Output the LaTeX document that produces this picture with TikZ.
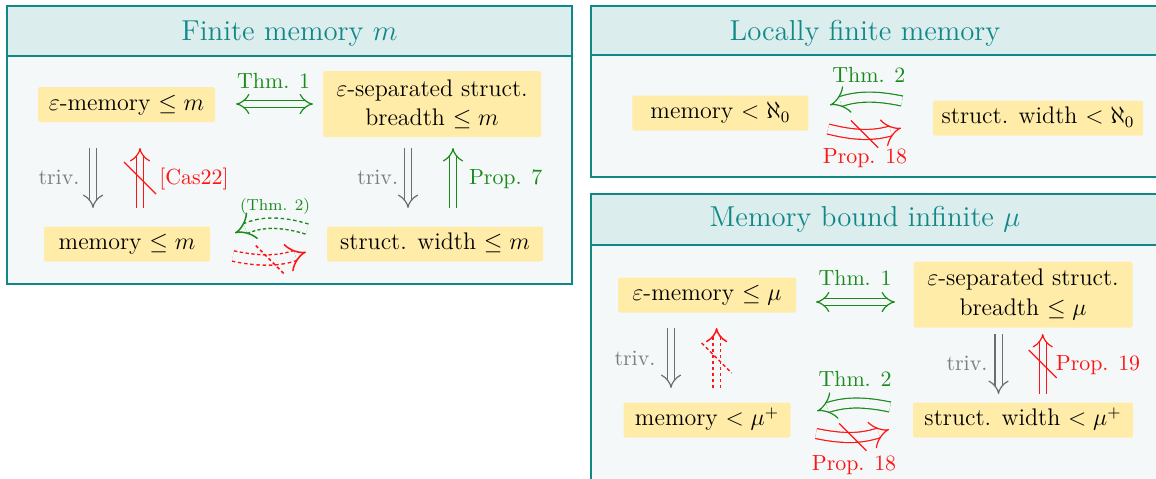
\documentclass[tikz,border=0pt]{standalone}
\usetikzlibrary{arrows.meta}
\definecolor{tealc}{RGB}{17,136,136}
\definecolor{headfill}{RGB}{220,237,237}
\definecolor{bodyfill}{RGB}{244,248,249}
\definecolor{boxfill}{RGB}{255,236,168}
\definecolor{greenc}{RGB}{26,138,26}
\definecolor{redc}{RGB}{255,20,20}
\definecolor{arrgray}{RGB}{110,110,110}
\definecolor{labgray}{RGB}{125,125,125}
\newcommand\fbase{\fontsize{12}{14.6}\selectfont}
\newcommand\ftitle{\fontsize{14.4}{17}\selectfont}
\newcommand\flabel{\fontsize{10.95}{13}\selectfont}
\newcommand\ftiny{\fontsize{8}{10}\selectfont}
\begin{document}
\begin{tikzpicture}[x=0.5pt,y=-0.5pt,
  panelline/.style={draw=tealc,line width=1pt},
  titletext/.style={text=tealc,font=\ftitle,anchor=base,inner sep=0pt},
  sbox/.style={fill=boxfill,rounded corners=1pt,inner xsep=3pt,inner ysep=2pt,
    font=\fbase,minimum height=17.5pt,text height=8.9pt,text depth=3pt},
  dbox/.style={fill=boxfill,rounded corners=1pt,inner xsep=3pt,inner ysep=2pt,
    font=\fbase,align=center,minimum height=33pt},
  lab/.style={font=\flabel,anchor=base,inner sep=0pt},
  imp/.style={double=bodyfill,double distance=3pt,line width=0.6pt,-{Implies[length=4.5pt,width=11pt]}},
  impboth/.style={double=bodyfill,double distance=3pt,line width=0.6pt,{Implies[length=4.5pt,width=11pt]}-{Implies[length=4.5pt,width=11pt]}},
  cimp/.style={double=bodyfill,double distance=4.4pt,line width=0.6pt,-{Implies[length=5pt,width=12pt]}},
  dsh/.style={dash pattern=on 1.7pt off 1.3pt,line width=0.75pt},
  erasec/.style={draw=bodyfill,line width=4.2pt,solid,shorten >=6pt},
  erases/.style={draw=bodyfill,line width=2.9pt,solid,shorten >=5pt},
  slash/.style={line width=0.6pt}]
\useasboundingbox (0,0) rectangle (1156,478);
\clip (0,0) rectangle (1156,478);
\fill[white] (0,0) rectangle (1156,478);

% ---------- panels ----------
\fill[headfill] (7,6) rectangle (572,56);
\fill[bodyfill] (7,56) rectangle (572,284);
\draw[panelline] (7,6) rectangle (572,284);
\draw[panelline] (7,56) -- (572,56);

\fill[headfill] (591,6) rectangle (1157,55);
\fill[bodyfill] (591,55) rectangle (1157,177);
\draw[panelline] (591,6) rectangle (1157,177);
\draw[panelline] (591,55) -- (1157,55);

\fill[headfill] (591,194) rectangle (1157,245);
\fill[bodyfill] (591,245) rectangle (1157,520);
\draw[panelline] (591,194) rectangle (1157,520);
\draw[panelline] (591,245) -- (1157,245);

\node[titletext] (t1) at (289.5,40.5) {Finite memory $m$};
\node[titletext] (t2) at (865,40.5) {Locally finite memory};
\node[titletext] (t3) at (865,226) {Memory bound infinite $\mu$};

% ---------- left panel ----------
\node[sbox,minimum width=88.5pt] (A) at (126.5,104.5) {$\varepsilon$-memory $\le m$};
\node[dbox,minimum width=109pt] (B) at (432,104) {$\varepsilon$-separated struct.\\breadth $\le m$};
\node[sbox,minimum width=83pt] (C) at (127,244) {memory $\le m$};
\node[sbox,minimum width=108pt] (D) at (435,244) {struct. width $\le m$};

\coordinate (a1) at (236,104); \coordinate (a2) at (313,104);
\draw[impboth,greenc] (a1) -- (a2);
\node[lab,text=greenc] (l1) at (273.6,88) {Thm. 1};

\coordinate (g1s) at (93,148); \coordinate (g1e) at (93,208);
\draw[imp,arrgray] (g1s) -- (g1e);
\node[lab,text=labgray] (l2) at (59,184.5) {triv.};

\coordinate (r1s) at (140,208); \coordinate (r1e) at (140,148);
\draw[imp,redc] (r1s) -- coordinate (r1m) (r1e);
\draw[slash,redc] (r1m) +(-8pt,8pt) -- +(8pt,-8pt);
\node[lab,text=redc] (l3) at (194,184) {[Cas22]};

\coordinate (g2s) at (408,148); \coordinate (g2e) at (408,208);
\draw[imp,arrgray] (g2s) -- (g2e);
\node[lab,text=labgray] (l4) at (377.7,184.5) {triv.};

\coordinate (p7s) at (453,208); \coordinate (p7e) at (453,148);
\draw[imp,greenc] (p7s) -- (p7e);
\node[lab,text=greenc] (l5) at (505.7,184.5) {Prop. 7};

\node[lab,font=\ftiny,text=greenc] (l6) at (275,210.7) {(Thm. 2)};
\coordinate (dg1) at (307,229); \coordinate (dg2) at (235,233);
\draw[cimp,greenc,dsh] (dg1) to[bend right=20] (dg2);
\draw[erasec] (dg1) to[bend right=20] (dg2);
\coordinate (dr1) at (233,256); \coordinate (dr2) at (306,252);
\draw[cimp,redc,dsh] (dr1) to[bend right=15] coordinate[pos=0.5] (drm) (dr2);
\draw[erasec] (dr1) to[bend right=15] (dr2);
\draw[slash,redc,dsh] (drm) +(-7pt,7pt) -- +(7pt,-7pt);

% ---------- locally finite panel ----------
\node[sbox,minimum width=88pt] (E) at (720.4,113) {memory $<\aleph_0$};
\node[sbox,minimum width=105pt] (F) at (1038,118) {struct. width $<\aleph_0$};

\coordinate (lg1) at (902,101); \coordinate (lg2) at (830,105);
\draw[cimp,greenc] (lg1) to[bend right=15] (lg2);
\node[lab,text=greenc] (l7) at (868.8,82) {Thm. 2};
\coordinate (lr1) at (828,129); \coordinate (lr2) at (901,128);
\draw[cimp,redc] (lr1) to[bend right=15] coordinate[pos=0.5] (lrm) (lr2);
\draw[slash,redc] (lrm) +(-6.8pt,6.8pt) -- +(6.8pt,-6.8pt);
\node[lab,text=redc] (l8) at (865,163) {Prop. 18};

% ---------- memory bound infinite panel ----------
\node[sbox,minimum width=89pt] (G) at (707,295) {$\varepsilon$-memory $\le \mu$};
\node[dbox,minimum width=109.5pt] (H) at (1023,294.5) {$\varepsilon$-separated struct.\\breadth $\le \mu$};
\node[sbox,minimum width=83.5pt] (I) at (707,420) {memory $<\mu^+$};
\node[sbox,minimum width=110pt] (J) at (1023,420) {struct. width $<\mu^+$};

\coordinate (b1) at (816,302); \coordinate (b2) at (895,302);
\draw[impboth,greenc] (b1) -- (b2);
\node[lab,text=greenc] (l9) at (855,285) {Thm. 1};

\coordinate (g3s) at (671,328); \coordinate (g3e) at (671,388);
\draw[imp,arrgray] (g3s) -- (g3e);
\node[lab,text=labgray] (l10) at (635,365) {triv.};

\coordinate (r3s) at (716.6,388); \coordinate (r3e) at (716.6,328);
\draw[imp,redc,dsh] (r3s) -- coordinate (r3m) (r3e);
\draw[erases] (r3s) -- (r3e);
\draw[slash,redc,dsh] (r3m) +(-7.5pt,7.5pt) -- +(7.5pt,-7.5pt);

\coordinate (g4s) at (998.5,334); \coordinate (g4e) at (998.5,394);
\draw[imp,arrgray] (g4s) -- (g4e);
\node[lab,text=labgray] (l11) at (967,370) {triv.};

\coordinate (r4s) at (1042.7,394); \coordinate (r4e) at (1042.7,334);
\draw[imp,redc] (r4s) -- coordinate (r4m) (r4e);
\draw[slash,redc] (r4m) +(-7pt,7pt) -- +(7pt,-7pt);
\node[lab,text=redc] (l12) at (1098,370) {Prop. 19};

\coordinate (mg1) at (890,407); \coordinate (mg2) at (817,411);
\draw[cimp,greenc] (mg1) to[bend right=15] (mg2);
\node[lab,text=greenc] (l13) at (855,386.7) {Thm. 2};
\coordinate (mr1) at (816,433.5); \coordinate (mr2) at (889,429.5);
\draw[cimp,redc] (mr1) to[bend right=15] coordinate[pos=0.5] (mrm) (mr2);
\draw[slash,redc] (mrm) +(-6.8pt,6.8pt) -- +(6.8pt,-6.8pt);
\node[lab,text=redc] (l14) at (854,470) {Prop. 18};
\end{tikzpicture}
\end{document}
